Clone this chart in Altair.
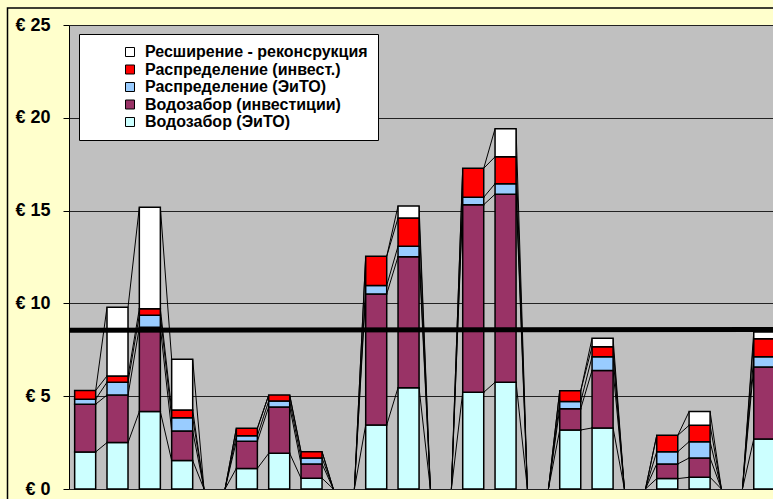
import altair as alt
import pandas as pd

# ---- data ----
slots = list(range(22))
series_names = [
    "Водозабор (ЭиТО)",
    "Водозабор (инвестиции)",
    "Распределение (ЭиТО)",
    "Распределение (инвест.)",
    "Ресширение - реконсрукция",
]
series_colors = ["#CCFFFF", "#993366", "#99CCFF", "#FF0000", "#FFFFFF"]

vodo_eito = [2.00, 2.50, 4.17, 1.53, 0, 1.11, 1.92, 0.58, 0, 3.45, 5.46, 0, 5.21, 5.75, 0, 3.18, 3.29, 0, 0.56, 0.63, 0, 2.69]
vodo_inv = [2.57, 2.56, 4.54, 1.60, 0, 1.46, 2.50, 0.77, 0, 7.06, 7.06, 0, 10.11, 10.13, 0, 1.15, 3.10, 0, 0.79, 1.04, 0, 3.88]
raspr_eito = [0.27, 0.69, 0.65, 0.71, 0, 0.30, 0.32, 0.32, 0, 0.46, 0.56, 0, 0.40, 0.57, 0, 0.38, 0.74, 0, 0.66, 0.88, 0, 0.56]
raspr_inv = [0.47, 0.34, 0.35, 0.42, 0, 0.40, 0.32, 0.34, 0, 1.57, 1.52, 0, 1.56, 1.45, 0, 0.59, 0.54, 0, 0.88, 0.88, 0, 0.97]
rashirenie = [0, 3.70, 5.47, 2.73, 0, 0, 0, 0, 0, 0, 0.65, 0, 0, 1.51, 0, 0, 0.45, 0, 0, 0.74, 0, 0.36]

avg_x = [-0.5, 21.27]
avg_y = [8.55, 8.60]

y_ticks = [0, 5, 10, 15, 20, 25]

# ---- build tables ----
HALF = 0.325
all_series = [vodo_eito, vodo_inv, raspr_eito, raspr_inv, rashirenie]

cum = []
running = [0.0] * len(slots)
for vals in all_series:
    lo = running[:]
    running = [a + b for a, b in zip(running, vals)]
    cum.append((lo, running[:]))

bar_rows = []
for k, name in enumerate(series_names):
    lo, hi = cum[k]
    for i, s in enumerate(slots):
        if all_series[k][i] > 0:
            bar_rows.append({"x0": s - HALF, "x1": s + HALF, "y0": lo[i], "y1": hi[i], "series": name})
bars_df = pd.DataFrame(bar_rows)

line_rows = []
for k in range(len(series_names)):
    hi = cum[k][1]
    for i in range(len(slots) - 1):
        if hi[i] == 0 and hi[i + 1] == 0:
            continue
        line_rows.append({"xa": slots[i] + HALF, "xb": slots[i + 1] - HALF, "ya": hi[i], "yb": hi[i + 1]})
lines_df = pd.DataFrame(line_rows)

avg_df = pd.DataFrame({"x": avg_x, "y": avg_y})

FONT = "Liberation Sans"
xscale = alt.Scale(domain=[-0.5, 21.27], nice=False, zero=False)
yscale = alt.Scale(domain=[0, 25], nice=False)

yaxis = alt.Axis(
    values=y_ticks,
    labelExpr="'€ ' + datum.value",
    labelFont=FONT,
    labelFontWeight="bold",
    labelFontSize=18,
    labelColor="black",
    labelPadding=13,
    tickColor="black",
    tickSize=6,
    domainColor="black",
    domainWidth=1,
    grid=True,
    gridColor="#222222",
    gridWidth=1,
    title=None,
)

series_lines = alt.Chart(lines_df).mark_rule(color="black", strokeWidth=1).encode(
    x=alt.X("xa:Q", scale=xscale, axis=None),
    x2="xb:Q",
    y=alt.Y("ya:Q", scale=yscale, axis=yaxis),
    y2="yb:Q",
)

bars = alt.Chart(bars_df).mark_rect(stroke="black", strokeWidth=1.5).encode(
    x=alt.X("x0:Q", scale=xscale, axis=None),
    x2="x1:Q",
    y=alt.Y("y0:Q", scale=yscale, axis=yaxis),
    y2="y1:Q",
    color=alt.Color(
        "series:N",
        scale=alt.Scale(domain=series_names[::-1], range=series_colors[::-1]),
        legend=alt.Legend(
            orient="none",
            legendX=10,
            legendY=9,
            title=None,
            fillColor="white",
            strokeColor="black",
            padding=10,
            symbolOffset=33,
            symbolType="square",
            symbolSize=81,
            symbolStrokeColor="black",
            symbolStrokeWidth=1,
            labelFont=FONT,
            labelFontSize=16,
            labelFontWeight="bold",
            labelColor="black",
            labelOffset=7,
            rowPadding=1.5,
            labelLimit=400,
        ),
    ),
)

avg_line = alt.Chart(avg_df).mark_line(color="black", strokeWidth=5).encode(
    x=alt.X("x:Q", scale=xscale, axis=None),
    y=alt.Y("y:Q", scale=yscale, axis=yaxis),
)

border_df = pd.DataFrame({"k": [0]})
border = alt.Chart(border_df).mark_rect(filled=False, stroke="black", strokeWidth=1.5).encode(
    x=alt.value(-61.5), x2=alt.value(760), y=alt.value(-17), y2=alt.value(500)
)

chart = (
    alt.layer(series_lines, bars, avg_line, border)
    .properties(
        width=704,
        height=464,
        autosize=alt.AutoSizeParams(type="none"),
        padding={"left": 69, "top": 25, "right": 0, "bottom": 10},
        background="#FFFFCC",
    )
    .configure_view(fill="#C0C0C0", stroke=None)
)

chart.save("out.html", embed_options={"renderer": "svg", "actions": False})
